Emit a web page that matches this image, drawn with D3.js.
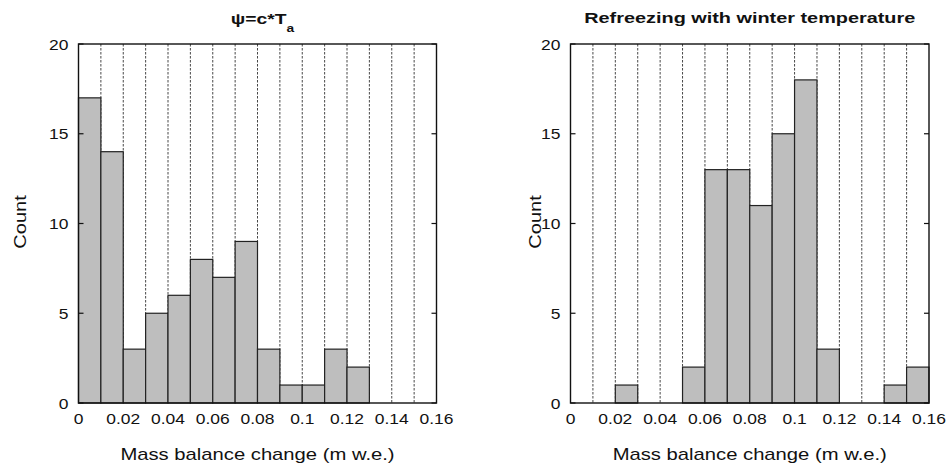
<html>
<head>
<script src="https://d3js.org/d3.v7.min.js"></script>
<style>
  body { margin: 0; background: #fff; }
  text { font-family: "Liberation Sans", Arial, sans-serif; fill: #111; }
</style>
</head>
<body>
<div id="chart"></div>
<script>
// bin start (m w.e.), width 0.01
var binStarts = [0, 0.01, 0.02, 0.03, 0.04, 0.05, 0.06, 0.07, 0.08, 0.09, 0.10, 0.11, 0.12, 0.13, 0.14, 0.15];
var countsPsi = [17, 14, 3, 5, 6, 8, 7, 9, 3, 1, 1, 3, 2, 0, 0, 0];
var countsWinter = [0, 0, 1, 0, 0, 2, 13, 13, 11, 15, 18, 3, 0, 0, 1, 2];
var xTicks = [0, 0.02, 0.04, 0.06, 0.08, 0.1, 0.12, 0.14, 0.16];
var yTicks = [0, 5, 10, 15, 20];
var binWidth = 0.01;

var W = 951, H = 471;
var svg = d3.select("#chart").append("svg")
    .attr("width", W).attr("height", H);

// the original lettering is a bit wider than Liberation Sans
function place(px, py, sx) {
  return "translate(" + px + "," + py + ") scale(" + sx + ",1)";
}

function drawPanel(left, right, counts, titleFn, countX) {
  var x = d3.scaleLinear().domain([0, 0.16]).range([left, right]);
  var y = d3.scaleLinear().domain([0, 20]).range([403, 44]);
  var g = svg.append("g");

  // dashed grid at each bin edge
  g.selectAll(".grid")
    .data(d3.range(1, 16).map(function(i) { return i * binWidth; }))
    .enter().append("line")
    .attr("x1", function(d) { return x(d); })
    .attr("x2", function(d) { return x(d); })
    .attr("y1", y(20)).attr("y2", y(0))
    .attr("stroke", "#333")
    .attr("stroke-width", 0.9)
    .attr("stroke-dasharray", "2.5,1.5");

  // bars
  g.selectAll(".bar")
    .data(binStarts.map(function(b, i) { return {x0: b, n: counts[i]}; })
      .filter(function(d) { return d.n > 0; }))
    .enter().append("rect")
    .attr("x", function(d) { return x(d.x0); })
    .attr("width", function(d) { return x(d.x0 + binWidth) - x(d.x0); })
    .attr("y", function(d) { return y(d.n); })
    .attr("height", function(d) { return y(0) - y(d.n); })
    .attr("fill", "#bebebe")
    .attr("stroke", "#222")
    .attr("stroke-width", 1.2);

  // frame
  g.append("rect")
    .attr("x", x(0)).attr("y", y(20))
    .attr("width", x(0.16) - x(0)).attr("height", y(0) - y(20))
    .attr("fill", "none").attr("stroke", "#111").attr("stroke-width", 1.4);

  // y ticks inward, both sides
  g.selectAll(".ytl").data(yTicks).enter().append("line")
    .attr("x1", x(0)).attr("x2", x(0) + 5)
    .attr("y1", function(d) { return y(d); }).attr("y2", function(d) { return y(d); })
    .attr("stroke", "#111").attr("stroke-width", 1.2);
  g.selectAll(".ytr").data(yTicks).enter().append("line")
    .attr("x1", x(0.16)).attr("x2", x(0.16) - 5)
    .attr("y1", function(d) { return y(d); }).attr("y2", function(d) { return y(d); })
    .attr("stroke", "#111").attr("stroke-width", 1.2);

  g.selectAll(".ylab").data(yTicks).enter().append("text")
    .attr("transform", function(d) { return place(x(0) - 10, y(d) + 5.5, 1.14); })
    .attr("text-anchor", "end")
    .style("font-size", "15.3px")
    .text(function(d) { return d; });

  g.selectAll(".xlab").data(xTicks).enter().append("text")
    .attr("transform", function(d) { return place(x(d), 423.5, 1.14); })
    .attr("text-anchor", "middle")
    .style("font-size", "15.3px")
    .text(function(d) { return d3.format("~g")(d); });

  g.append("text")
    .attr("transform", place((x(0) + x(0.16)) / 2, 460, 1.19))
    .attr("text-anchor", "middle")
    .style("font-size", "17px")
    .text("Mass balance change (m w.e.)");

  g.append("text")
    .attr("transform", "translate(" + countX + ",222) rotate(-90) scale(1.18,1)")
    .attr("dy", "0.36em")
    .attr("text-anchor", "middle")
    .style("font-size", "17px")
    .text("Count");

  titleFn(g, (x(0) + x(0.16)) / 2);
}

drawPanel(78.5, 436.5, countsPsi, function(g, cx) {
  var t = g.append("text")
    .attr("transform", place(cx + 5, 23.5, 1.25))
    .attr("text-anchor", "middle")
    .style("font-size", "15.4px")
    .style("font-weight", "bold");
  t.append("tspan").text("\u03c8=c*T");
  t.append("tspan").attr("dy", 8).style("font-size", "11px").text("a");
}, 20);

drawPanel(570.5, 929, countsWinter, function(g, cx) {
  g.append("text")
    .attr("transform", place(cx, 23.3, 1.29))
    .attr("text-anchor", "middle")
    .style("font-size", "15.4px")
    .style("font-weight", "bold")
    .text("Refreezing with winter temperature");
}, 535);
</script>
</body>
</html>
